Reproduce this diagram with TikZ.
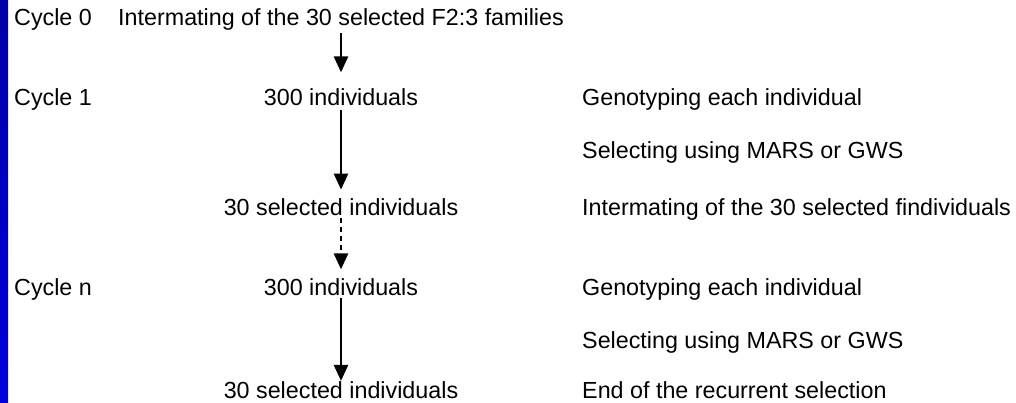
\documentclass[tikz,border=0pt]{standalone}
\usepackage{fontspec}
\setmainfont{Liberation Sans}
\usetikzlibrary{arrows.meta}
\definecolor{bartop}{HTML}{0000A8}
\definecolor{barbot}{HTML}{0000DC}
\begin{document}
\begin{tikzpicture}[x=1pt,y=-1pt,
  lbl/.style={inner sep=0pt, anchor=base west, font=\fontsize{23.3}{27}\selectfont},
  mid/.style={inner sep=0pt, anchor=base, font=\fontsize{23.3}{27}\selectfont},
  flow/.style={line width=2.5pt, -{Triangle[length=16pt,width=14pt]}},
  ]
\useasboundingbox (0,0) rectangle (1016,402);
\shade[top color=bartop, bottom color=barbot] (0,0) rectangle (8,402);

% left labels
\node[lbl] (c0) at (14,25) {Cycle 0};
\node[lbl] (c1) at (14,105) {Cycle 1};
\node[lbl] (cn) at (14,295) {Cycle n};

% central column
\node[mid] (t0) at (341,25) {Intermating of the 30 selected F2:3 families};
\node[mid] (r1) at (341,105) {300 individuals};
\node[mid] (s1) at (341,215) {30 selected individuals};
\node[mid] (rn) at (341,295) {300 individuals};
\node[mid] (sn) at (341,398) {30 selected individuals};

% right column
\node[lbl] (g1) at (582,105) {Genotyping each individual};
\node[lbl] (m1) at (582,158) {Selecting using MARS or GWS};
\node[lbl] (i1) at (582,215) {Intermating of the 30 selected findividuals};
\node[lbl] (gn) at (582,295) {Genotyping each individual};
\node[lbl] (mn) at (582,348) {Selecting using MARS or GWS};
\node[lbl] (en) at (582,398) {End of the recurrent selection};

% arrows
\draw[flow, shorten <=3pt, shorten >=15.5pt] (t0.south) -- (r1.north);
\draw[flow, shorten <=5pt, shorten >=8.3pt] (r1.south) -- (s1.north);
\draw[flow, dash pattern=on 5pt off 4pt, shorten <=3pt, shorten >=8.5pt] (s1.south) -- (rn.north);
\draw[flow, shorten <=3pt, shorten >=0pt] (rn.south) -- (sn.north);
\end{tikzpicture}
\end{document}
